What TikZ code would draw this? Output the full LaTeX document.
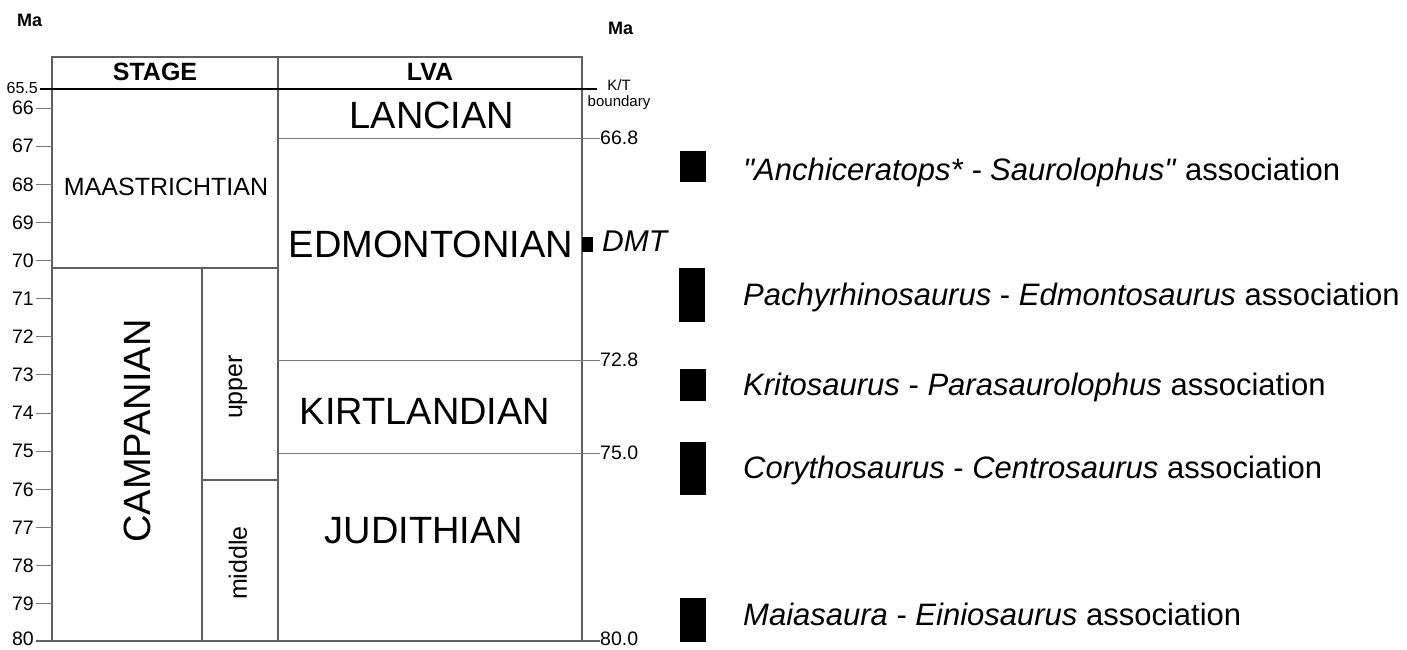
\documentclass[tikz,border=0pt]{standalone}
\usepackage{fontspec}
\setmainfont{Liberation Sans}
\usetikzlibrary{positioning}
\usepackage{xcolor}
\definecolor{framegray}{RGB}{95,95,95}
\definecolor{linegray}{RGB}{120,120,120}
\newcommand{\sz}[1]{\fontsize{#1}{#1}\selectfont}

\begin{document}
\begin{tikzpicture}[
    x=1pt, y=-1pt,
    every node/.style={inner sep=0pt},
    frameline/.style={draw=framegray, line width=1.3pt},
    sepline/.style={draw=linegray, line width=1pt},
    ktline/.style={draw=black, line width=2pt},
    headlab/.style={font=\sz{25}\bfseries},
    agelab/.style={font=\sz{19.5}},
    lvaname/.style={font=\sz{38}},
    stagename/.style={font=\sz{25}},
    subname/.style={font=\sz{25}, rotate=90},
    assoc/.style={anchor=base west, font=\sz{31}},
    bar/.style={fill=black}
  ]
    \useasboundingbox (0,0) rectangle (1407,649);

    % axis titles
    \node[anchor=west, font=\sz{18}\bfseries] (maleft) at (17,20) {Ma};
    \node[anchor=west, font=\sz{18}\bfseries] (maright) at (608,28.5) {Ma};

    % frame and columns
    \draw[frameline] (52,641) -- (52,57) -- (582,57) -- (582,641);
    \draw[frameline] (278,57) -- (278,641);
    \draw[frameline] (36,641) -- (600,641);
    \draw[ktline] (40,89) -- (597,89);
    \draw[sepline] (278,138) -- (600,138);
    \draw[sepline] (278,360) -- (600,360);
    \draw[sepline] (278,453) -- (600,453);
    \draw[frameline] (52,268) -- (278,268);
    \draw[frameline] (202,268) -- (202,641);
    \draw[frameline] (202,480) -- (278,480);

    % headers
    \node[headlab] (stage) at (155,72) {STAGE};
    \node[headlab] (lva) at (430,72) {LVA};

    % left age scale
    \node[anchor=east, font=\sz{16}] (t655) at (38,88) {65.5};
    \foreach \m in {66,...,79} {
      \draw[sepline] (36,{108+(\m-66)*38.14}) -- (52,{108+(\m-66)*38.14});
      \node[agelab, anchor=east] (t\m) at (34,{108+(\m-66)*38.14}) {\m};
    }
    \node[agelab, anchor=east] (t80) at (34,639) {80};

    % right boundary ages
    \foreach \yy/\lab [count=\i] in {138/66.8, 360/72.8, 453/75.0, 639/80.0}
      \node[agelab, anchor=west] (b\i) at (600,\yy) {\lab};
    \node[align=center, font=\sz{15}] (kt) at (619,95) {K/T\\[1pt]boundary};

    % stages
    \node[stagename] (maas) at (166,187) {MAASTRICHTIAN};
    \node[lvaname, rotate=90] (camp) at (137,431) {CAMPANIAN};
    \node[subname] (upper) at (238,387) {upper};
    \node[subname] (middle) at (238,563) {middle};

    % land vertebrate ages
    \node[lvaname] (lancian) at (432,115) {LANCIAN};
    \node[lvaname] (edmont) at (431,244) {EDMONTONIAN};
    \node[lvaname] (kirt) at (425,411) {KIRTLANDIAN};
    \node[lvaname] (judith) at (424,531) {JUDITHIAN};

    % DMT marker
    \fill (582,237) rectangle (593,252);
    \node[anchor=west, font=\sz{30}\itshape] (dmt) at (602,241) {DMT};

    % faunal associations
    \fill[bar] (680,151) rectangle (706,182);
    \fill[bar] (679,268) rectangle (705,322);
    \fill[bar] (680,369) rectangle (706,401);
    \fill[bar] (680,442) rectangle (706,495);
    \fill[bar] (680,598) rectangle (706,642);
    \node[assoc] (a1) at (743,180) {\textit{\textquotedbl Anchiceratops* - Saurolophus\textquotedbl} association};
    \node[assoc] (a2) at (743,305) {\textit{Pachyrhinosaurus} - \textit{Edmontosaurus} association};
    \node[assoc] (a3) at (743,395) {\textit{Kritosaurus} - \textit{Parasaurolophus} association};
    \node[assoc] (a4) at (743,478) {\textit{Corythosaurus} - \textit{Centrosaurus} association};
    \node[assoc] (a5) at (743,625) {\textit{Maiasaura} - \textit{Einiosaurus} association};
\end{tikzpicture}
\end{document}
